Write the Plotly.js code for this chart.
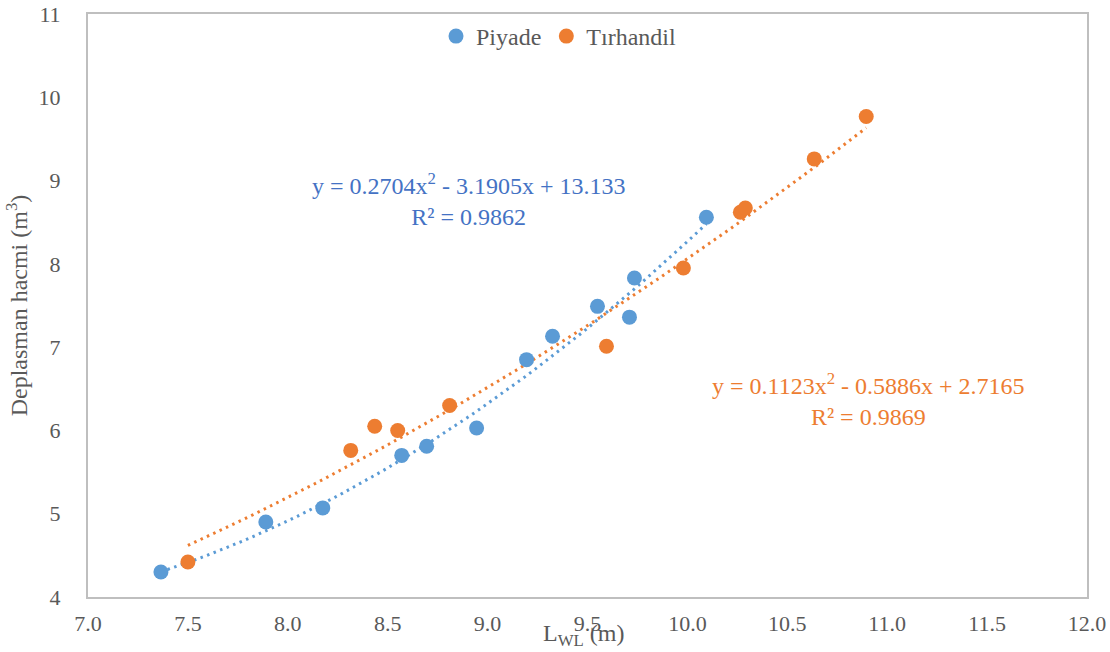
<!DOCTYPE html>
<html>
<head>
<meta charset="utf-8">
<script src="https://cdn.plot.ly/plotly-3.0.1.min.js"></script>
<style>html,body{margin:0;padding:0;background:#fff;}#chart{width:1110px;height:652px;}</style>
</head>
<body>
<div id="chart"></div>
<script>
// Piyade
const piyadeX = [7.365, 7.89, 8.175, 8.57, 8.695, 8.945, 9.195, 9.325, 9.55, 9.71, 9.735, 10.095];
const piyadeY = [4.30, 4.90, 5.07, 5.70, 5.81, 6.03, 6.85, 7.13, 7.49, 7.36, 7.83, 8.56];
// Tırhandil
const tirhandilX = [7.50, 8.315, 8.435, 8.55, 8.81, 9.595, 9.98, 10.265, 10.29, 10.635, 10.895];
const tirhandilY = [4.42, 5.76, 6.05, 6.00, 6.30, 7.01, 7.95, 8.62, 8.67, 9.26, 9.77];
// trendline coefficients shown on chart [a, b, c] for y = a x^2 + b x + c
const piyadeCoef = [0.2704, -3.1905, 13.133];
const tirhandilCoef = [0.1123, -0.5886, 2.7165];
const piyadeLabel = 'y = 0.2704x<sup>2</sup> - 3.1905x + 13.133<br>R² = 0.9862';
const tirhandilLabel = 'y = 0.1123x<sup>2</sup> - 0.5886x + 2.7165<br>R² = 0.9869';
const xTicks = [7.0, 7.5, 8.0, 8.5, 9.0, 9.5, 10.0, 10.5, 11.0, 11.5, 12.0];
const yTicks = [4, 5, 6, 7, 8, 9, 10, 11];

function trend(xs, coef) {
  const lo = Math.min(...xs), hi = Math.max(...xs);
  const X = [], Y = [];
  for (let i = 0; i <= 60; i++) {
    const x = lo + (hi - lo) * i / 60;
    X.push(x); Y.push(coef[0] * x * x + coef[1] * x + coef[2]);
  }
  return {X, Y};
}
const tb = trend(piyadeX, piyadeCoef);
const to = trend(tirhandilX, tirhandilCoef);
const BLUE = '#5B9BD5', ORANGE = '#ED7D31';
const font = 'Liberation Serif';

const data = [
  {x: tb.X, y: tb.Y, mode: 'lines', line: {color: BLUE, width: 3, dash: '2.5px,4.5px'}, showlegend: false, hoverinfo: 'skip'},
  {x: to.X, y: to.Y, mode: 'lines', line: {color: ORANGE, width: 3, dash: '2.5px,4.5px'}, showlegend: false, hoverinfo: 'skip'},
  {x: piyadeX, y: piyadeY, mode: 'markers', name: 'Piyade', marker: {color: BLUE, size: 15}},
  {x: tirhandilX, y: tirhandilY, mode: 'markers', name: 'Tırhandil', marker: {color: ORANGE, size: 15}}
];

const layout = {
  width: 1110, height: 652,
  margin: {l: 88, r: 23, t: 14, b: 55},
  paper_bgcolor: '#fff', plot_bgcolor: '#fff',
  font: {family: font, color: '#595959', size: 22},
  showlegend: true,
  legend: {orientation: 'h', x: (436 - 88) / 999, xanchor: 'left', y: 1.0, yanchor: 'top', bgcolor: 'rgba(0,0,0,0)', font: {family: font, size: 24, color: '#595959'}, itemwidth: 30, tracegroupgap: 0},
  xaxis: {
    range: [7, 12], tickvals: xTicks, ticktext: xTicks.map(v => v.toFixed(1)),
    showgrid: false, zeroline: false, showline: true, linecolor: '#BFBFBF', linewidth: 2, mirror: true,
    ticks: '', ticklabelstandoff: 6, tickfont: {family: font, size: 22, color: '#595959'}
  },
  yaxis: {
    range: [4, 11], tickvals: yTicks,
    showgrid: false, zeroline: false, showline: true, linecolor: '#BFBFBF', linewidth: 2, mirror: true,
    ticks: '', ticklabelstandoff: 21, tickfont: {family: font, size: 22, color: '#595959'},
    title: {text: 'Deplasman hacmi (m<sup>3</sup>)', font: {family: font, size: 24, color: '#595959'}, standoff: 4}
  },
  annotations: [
    {xref: 'paper', yref: 'paper', x: (583 - 88) / 999, y: -0.066, xanchor: 'center', yanchor: 'middle',
     text: 'L<sub>WL</sub> (m)', showarrow: false, font: {family: font, size: 24, color: '#595959'}},
    {xref: 'paper', yref: 'paper', x: (468 - 88) / 999, y: (597 - 199) / 583, xanchor: 'center', yanchor: 'middle',
     text: piyadeLabel, showarrow: false, font: {family: font, size: 24, color: '#4472C4'}, align: 'center'},
    {xref: 'paper', yref: 'paper', x: (868 - 88) / 999, y: (597 - 399) / 583, xanchor: 'center', yanchor: 'middle',
     text: tirhandilLabel, showarrow: false, font: {family: font, size: 24, color: ORANGE}, align: 'center'}
  ]
};
Plotly.newPlot('chart', data, layout, {displayModeBar: false, staticPlot: true});
</script>
</body>
</html>
